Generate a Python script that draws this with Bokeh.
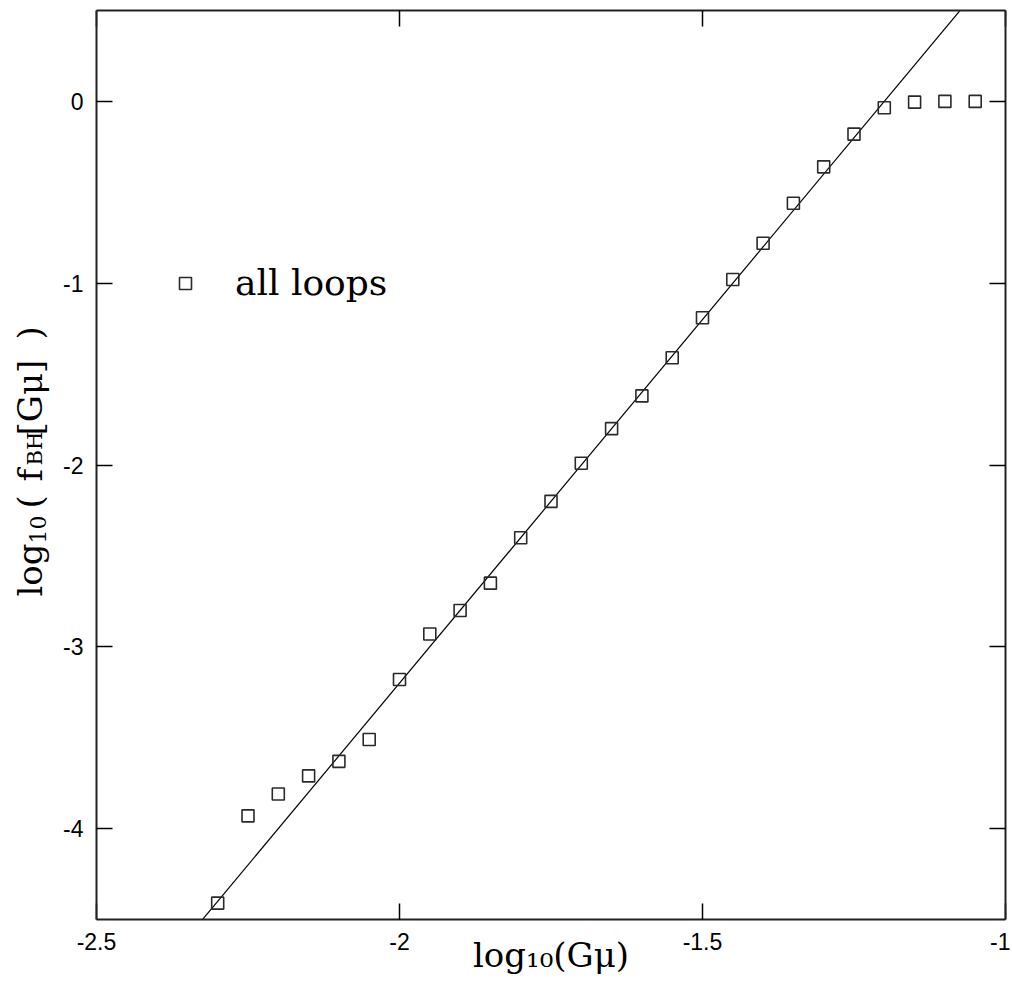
import numpy as np
from bokeh.plotting import figure
from bokeh.layouts import row
from bokeh.models import (ColumnDataSource, Range1d, LinearAxis, FixedTicker,
                          Label, Legend, LegendItem)
from bokeh.embed import file_html
from bokeh.resources import INLINE

# ---- data ----
log_gmu = [-2.30, -2.25, -2.20, -2.15, -2.10, -2.05, -2.00, -1.95, -1.90,
           -1.85, -1.80, -1.75, -1.70, -1.65, -1.60, -1.55, -1.50, -1.45,
           -1.40, -1.35, -1.30, -1.25, -1.20, -1.15, -1.10, -1.05]
log_fbh = [-4.41, -3.93, -3.81, -3.71, -3.63, -3.51, -3.18, -2.93, -2.80,
           -2.65, -2.40, -2.20, -1.99, -1.80, -1.62, -1.41, -1.19, -0.98,
           -0.78, -0.56, -0.36, -0.18, -0.035, -0.004, 0.0, 0.0]
fit_slope = 4.0
fit_intercept = 4.80

x_ticks = [-2.5, -2.0, -1.5, -1.0]
x_tick_labels = ["-2.5", "-2", "-1.5", "-1"]
y_ticks = [0, -1, -2, -3, -4]
y_tick_labels = ["0", "-1", "-2", "-3", "-4"]
x_limits = [-2.5, -1.0]
y_limits = [-4.5, 0.5]

x_title = "log₁₀(Gμ)"
legend_label = "all loops"

SERIF = "DejaVu Serif"
SANS = "Liberation Sans"

# ---- geometry (px) ----
YW = 56                 # width of the strip that carries the y title
FL, FT, FW, FH = 96, 10, 909, 909
FB = 75
H = FT + FH + FB

p = figure(frame_width=FW, frame_height=FH,
           min_border_left=FL - YW, min_border_right=5,
           min_border_top=FT, min_border_bottom=FB,
           x_range=Range1d(*x_limits), y_range=Range1d(*y_limits),
           output_backend="svg", toolbar_location=None,
           background_fill_color="white", border_fill_color="white")
p.outline_line_color = None
p.grid.visible = False

src = ColumnDataSource(dict(x=log_gmu, y=log_fbh))
fit_x = np.array(x_limits)
fit_y = fit_slope * fit_x + fit_intercept
p.line(fit_x, fit_y, line_color="black", line_width=1.2)
pts = p.scatter("x", "y", source=src, marker="square", size=12,
                fill_color=None, line_color="#2a2a2a", line_width=1.6)

def style_axis(ax, ticks, labels, show_labels):
    ax.ticker = FixedTicker(ticks=ticks)
    ax.major_tick_in = 16
    ax.major_tick_out = 0
    ax.minor_tick_in = 0
    ax.minor_tick_out = 0
    ax.major_tick_line_color = "black"
    ax.major_tick_line_width = 1.5
    ax.axis_line_color = "#222222"
    ax.axis_line_width = 2
    if show_labels:
        ax.major_label_overrides = {t: l for t, l in zip(ticks, labels)}
        ax.major_label_text_font = SANS
        ax.major_label_text_font_size = "23px"
        ax.major_label_text_color = "black"
        ax.major_label_standoff = 13
    else:
        ax.major_label_overrides = {t: "" for t in ticks}
        ax.major_label_text_font_size = "0px"
        ax.major_label_standoff = 0
        ax.axis_label_standoff = 0

style_axis(p.xaxis[0], x_ticks, x_tick_labels, True)
style_axis(p.yaxis[0], y_ticks, y_tick_labels, True)
p.xaxis[0].axis_label = x_title
p.xaxis[0].axis_label_text_font = SERIF
p.xaxis[0].axis_label_text_font_style = "normal"
p.xaxis[0].axis_label_text_font_size = "34px"
p.xaxis[0].axis_label_text_color = "black"
p.xaxis[0].axis_label_standoff = -18

top_ax = LinearAxis()
right_ax = LinearAxis()
style_axis(top_ax, x_ticks, x_tick_labels, False)
style_axis(right_ax, y_ticks, y_tick_labels, False)
p.add_layout(top_ax, "above")
p.add_layout(right_ax, "right")

# ---- legend ----
legend = Legend(items=[LegendItem(label=legend_label, renderers=[pts])],
                location=(74, 616), padding=0, margin=0, spacing=0,
                glyph_width=30, glyph_height=30, label_standoff=35,
                label_text_font=SERIF, label_text_font_size="36px",
                label_text_color="black",
                border_line_color=None, background_fill_alpha=0)
p.add_layout(legend, "center")

# ---- y title strip: log10( f_BH[Gmu] ) with real sub-scripts ----
ys = figure(frame_width=YW, frame_height=H, min_border=0,
            x_range=Range1d(0, YW), y_range=Range1d(H, 0),
            x_axis_location=None, y_axis_location=None,
            output_backend="svg", toolbar_location=None,
            background_fill_color="white", border_fill_color="white")
ys.outline_line_color = None
ys.grid.visible = False

DX, DY = -13, -7
def lab(text, px, py, size):
    ys.add_layout(Label(x=px + DX, y=py + DY, text=text, text_font=SERIF,
                        text_font_size=size, text_color="black",
                        angle=np.pi / 2, text_align="left",
                        text_baseline="alphabetic"))

lab("log", 42, 593, "34px")
lab("10", 50, 540, "22px")
lab("(", 42, 505, "34px")
lab("f", 42, 478, "34px")
lab("BH", 47, 462, "21px")
lab("[Gμ]", 42, 432, "34px")
lab(")", 42, 336, "34px")

layout = row(ys, p, spacing=0)
open("out.html", "w").write(file_html(layout, INLINE))
